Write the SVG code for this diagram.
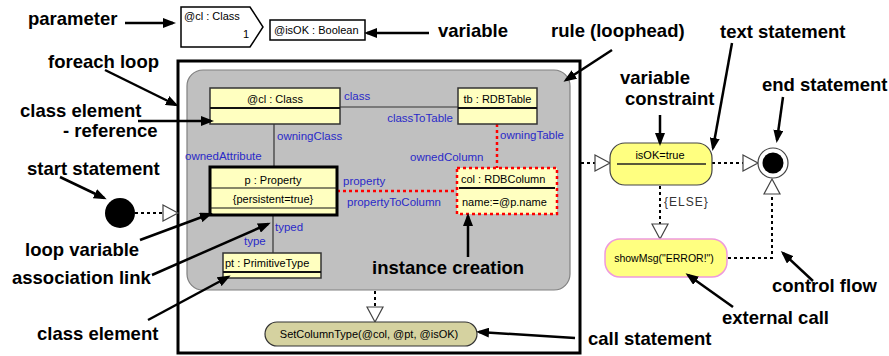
<svg xmlns="http://www.w3.org/2000/svg" width="889" height="356" viewBox="0 0 889 356">
<defs>
<style>
.lbl{font-family:"Liberation Sans",Arial,sans-serif;font-weight:bold;font-size:18.5px;fill:#000}
.t{font-family:"Liberation Sans",Arial,sans-serif;font-size:11px;fill:#000}
.role{font-family:"Liberation Sans",Arial,sans-serif;font-size:11.5px;fill:#2a2ac8}
.cls{fill:#ffffc0;stroke:#333;stroke-width:1.5}
.div{stroke:#111;stroke-width:2}
.ann{stroke:#000;stroke-width:2.5;fill:none;marker-end:url(#ah)}
.flow{stroke:#000;stroke-width:2;stroke-dasharray:3,3;fill:none}
.red{stroke:#ff0000;stroke-width:2.5;stroke-dasharray:3,3;fill:none}
.assoc{stroke:#333;stroke-width:1.2;fill:none}
.tri{fill:#fff;stroke:#444;stroke-width:1.2}
</style>
<marker id="ah" markerUnits="userSpaceOnUse" markerWidth="13" markerHeight="10" refX="10" refY="5" orient="auto">
<path d="M0,0 L13,5 L0,10 z" fill="#000"/>
</marker>
</defs>
<rect width="889" height="356" fill="#fff"/>

<g id="foreach-loop">
<rect x="178" y="61" width="402" height="292" fill="#fff" stroke="#000" stroke-width="3"/>
</g>
<g id="rule">
<rect x="187" y="70" width="383" height="220" rx="16" fill="#c0c0c0" stroke="#808080" stroke-width="1.2"/>
</g>

<g id="connectors">
<line class="assoc" x1="340" y1="107" x2="458" y2="107"/>
<line class="assoc" x1="274" y1="124" x2="274" y2="167"/>
<line class="assoc" x1="273" y1="215" x2="273" y2="253"/>
<line class="red" x1="337" y1="191" x2="457" y2="191"/>
<line class="red" x1="497" y1="124" x2="497" y2="168"/>
<line class="flow" x1="135" y1="213" x2="163" y2="213"/>
<polygon class="tri" points="163,205 178,213 163,221"/>
<line class="flow" x1="581" y1="163" x2="595" y2="163"/>
<polygon class="tri" points="595,155 610,163 595,171"/>
<line class="flow" x1="712" y1="163" x2="743" y2="163"/>
<polygon class="tri" points="743,155 758,163 743,171"/>
<line class="flow" x1="660" y1="186" x2="660" y2="224"/>
<polygon class="tri" points="652,224 668,224 660,239"/>
<polyline class="flow" points="728,258 772,258 772,194"/>
<polygon class="tri" points="764,194 780,194 772,179"/>
<line class="flow" x1="375" y1="291" x2="375" y2="307"/>
<polygon class="tri" points="367,307 383,307 375,322"/>
<text class="t" x="664" y="206" style="fill:#333;font-size:12px;letter-spacing:1px">{ELSE}</text>
</g>

<g id="parameter">
<path d="M181,7 L250,7 L263,27 L250,47 L181,47 Z" fill="#fff" stroke="#000" stroke-width="1.5"/>
<text class="t" x="184" y="20">@cl : Class</text>
<text class="t" x="243" y="38">1</text>
</g>
<g id="variable">
<rect x="270" y="20" width="95" height="20" fill="#fff" stroke="#000" stroke-width="1.5"/>
<text class="t" x="274" y="34">@isOK : Boolean</text>
</g>

<g id="class-cl">
<rect class="cls" x="210" y="88" width="130" height="36"/>
<line class="div" x1="210" y1="108" x2="340" y2="108"/>
<text class="t" x="275" y="103" text-anchor="middle">@cl : Class</text>
</g>
<g id="class-tb">
<rect class="cls" x="458" y="88" width="79" height="36"/>
<line class="div" x1="458" y1="108" x2="537" y2="108"/>
<text class="t" x="497.5" y="103" text-anchor="middle">tb : RDBTable</text>
</g>
<g id="class-p">
<rect x="210" y="167" width="127" height="48" fill="#ffffc0" stroke="#000" stroke-width="3"/>
<line class="div" x1="210" y1="188" x2="337" y2="188" style="stroke-width:1.2"/>
<line class="div" x1="210" y1="208" x2="337" y2="208" style="stroke-width:1.2"/>
<text class="t" x="273" y="184" text-anchor="middle">p : Property</text>
<text class="t" x="273" y="203" text-anchor="middle">{persistent=true}</text>
</g>
<g id="class-pt">
<rect class="cls" x="223" y="253" width="98" height="25"/>
<line class="div" x1="223" y1="272" x2="321" y2="272"/>
<text class="t" x="225" y="267">pt : PrimitiveType</text>
</g>
<g id="class-col">
<rect x="457" y="168" width="100" height="46" fill="#ffffc0" stroke="#ff0000" stroke-width="2.5" stroke-dasharray="3,3"/>
<line class="div" x1="459" y1="188" x2="555" y2="188"/>
<text class="t" x="461" y="183">col : RDBColumn</text>
<text class="t" x="462" y="206">name:=@p.name</text>
</g>

<g id="role-labels">
<text class="role" x="344" y="100">class</text>
<text class="role" x="453" y="122" text-anchor="end">classToTable</text>
<text class="role" x="277" y="140">owningClass</text>
<text class="role" x="185" y="160">ownedAttribute</text>
<text class="role" x="500" y="139">owningTable</text>
<text class="role" x="410" y="161">ownedColumn</text>
<text class="role" x="343" y="185">property</text>
<text class="role" x="347" y="206">propertyToColumn</text>
<text class="role" x="275" y="231">typed</text>
<text class="role" x="244" y="245">type</text>
</g>

<g id="call-statement">
<rect x="265" y="322" width="212" height="24" rx="12" fill="#d5d2a0" stroke="#333" stroke-width="1.2"/>
<text class="t" x="369" y="338" text-anchor="middle">SetColumnType(@col, @pt, @isOK)</text>
</g>
<g id="start">
<circle cx="120" cy="213" r="15" fill="#000"/>
</g>
<g id="isOK">
<rect x="610" y="143" width="102" height="42" rx="15" fill="#ffff80" stroke="#444" stroke-width="1.2"/>
<line x1="617" y1="164" x2="706" y2="164" stroke="#222" stroke-width="1.5"/>
<text class="t" x="660" y="159" text-anchor="middle">isOK=true</text>
</g>
<g id="end">
<circle cx="773" cy="163" r="15" fill="#fff" stroke="#444" stroke-width="1.2"/>
<circle cx="773" cy="163" r="10.5" fill="#000"/>
</g>
<g id="showMsg">
<rect x="605" y="239" width="122" height="38" rx="15" fill="#ffff80" stroke="#ee99dd" stroke-width="1.5"/>
<text class="t" x="664" y="262" text-anchor="middle" style="font-size:10.5px">showMsg("ERROR!")</text>
</g>

<g id="annotations">
<text class="lbl" x="28" y="25">parameter</text>
<line class="ann" x1="125" y1="23" x2="173" y2="23"/>
<text class="lbl" x="438" y="37">variable</text>
<line class="ann" x1="429" y1="33" x2="367" y2="33"/>
<text class="lbl" x="551" y="37">rule (loophead)</text>
<line class="ann" x1="612" y1="50" x2="566" y2="80"/>
<text class="lbl" x="720" y="38">text statement</text>
<line class="ann" x1="732" y1="43" x2="713" y2="148"/>
<text class="lbl" x="48" y="68">foreach loop</text>
<line class="ann" x1="105" y1="70" x2="176" y2="105"/>
<text class="lbl" x="620" y="84">variable</text>
<text class="lbl" x="625" y="105">constraint</text>
<line class="ann" x1="660" y1="115" x2="660" y2="143"/>
<text class="lbl" x="762" y="91">end statement</text>
<line class="ann" x1="783" y1="97" x2="777" y2="140"/>
<text class="lbl" x="20" y="117">class element</text>
<text class="lbl" x="63" y="137">- reference</text>
<line class="ann" x1="138" y1="121" x2="211" y2="121"/>
<text class="lbl" x="27" y="175">start statement</text>
<line class="ann" x1="60" y1="177" x2="104" y2="198"/>
<text class="lbl" x="25" y="256">loop variable</text>
<line class="ann" x1="140" y1="240" x2="210" y2="214"/>
<text class="lbl" x="12" y="284">association link</text>
<line class="ann" x1="152" y1="275" x2="268" y2="224"/>
<text class="lbl" x="37" y="340">class element</text>
<line class="ann" x1="148" y1="320" x2="228" y2="277"/>
<text class="lbl" x="372" y="274">instance creation</text>
<line class="ann" x1="468" y1="257" x2="468" y2="216"/>
<text class="lbl" x="588" y="345">call statement</text>
<line class="ann" x1="575" y1="338" x2="479" y2="332"/>
<text class="lbl" x="722" y="324">external call</text>
<line class="ann" x1="733" y1="307" x2="688" y2="275"/>
<text class="lbl" x="772" y="292">control flow</text>
<line class="ann" x1="813" y1="281" x2="783" y2="253"/>
</g>
</svg>
